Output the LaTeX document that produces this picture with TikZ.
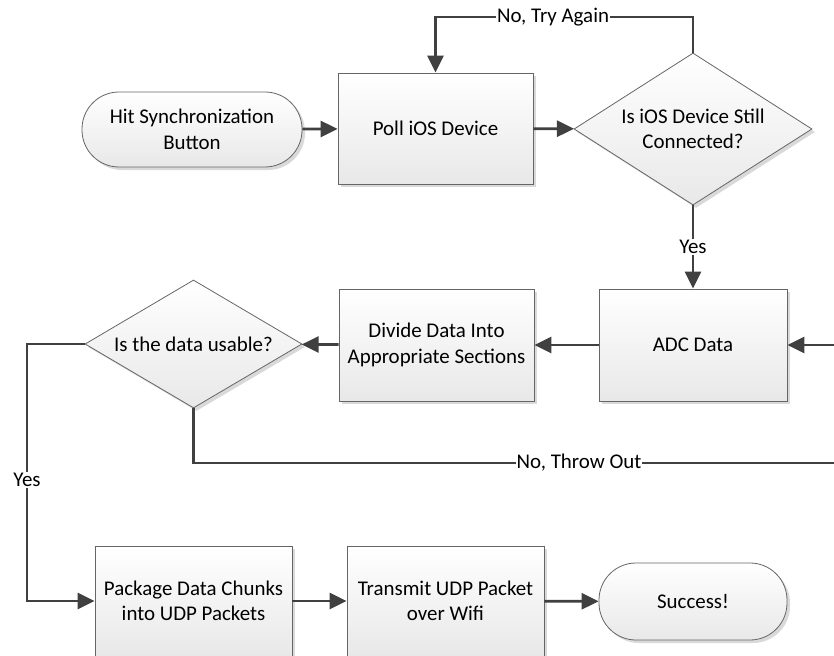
\documentclass[tikz,border=0pt]{standalone}
\usepackage{fontspec}
\setmainfont{Carlito}
\usetikzlibrary{arrows.meta,shapes.geometric,shadows}

\begin{document}
\begin{tikzpicture}[
  x=1bp,
  y=-1bp,
  line join=miter,
  >={Triangle[length=17bp,width=16bp]},
  flowbox/.style={draw=black!60, line width=0.8bp, top color=white, bottom color=black!9,
    drop shadow={shadow xshift=3bp, shadow yshift=-3bp, fill=black!15, opacity=1},
    font=\fontsize{21}{25.6}\selectfont, align=center, inner sep=0},
  process/.style={flowbox, rectangle, minimum width=195bp, minimum height=111bp},
  terminal/.style={flowbox, rectangle, rounded corners=37bp, minimum height=75bp},
  decision/.style={flowbox, diamond},
  arrow/.style={draw=black!75, line width=2.8bp, ->},
  label/.style={font=\fontsize{21}{25.6}\selectfont, fill=white, inner sep=1bp}
]
\useasboundingbox (0,0) rectangle (834,656);
\clip (0,0) rectangle (834,656);
\fill[white] (0,0) rectangle (834,656);

% Top row
\node[terminal, minimum width=220bp] (start) at (192,129.5) {Hit Synchronization\\Button};
\node[process] (poll) at (435.5,128.5) {Poll iOS Device};
\node[decision, aspect=1.57, minimum width=238bp, minimum height=152bp] (conn) at (693,129)
  {Is iOS Device Still\\Connected?};

% Middle row
\node[process, minimum width=188bp, minimum height=112bp] (adc) at (693,345) {ADC Data};
\node[process, minimum height=112bp] (divide) at (436.5,345) {Divide Data Into\\Appropriate Sections};
\node[decision, aspect=1.7, minimum width=217bp, minimum height=128bp] (usable) at (193.5,344)
  {Is the data usable?};

% Bottom row
\node[process, minimum width=197bp, minimum height=110bp] (package) at (193.5,601) {Package Data Chunks\\into UDP Packets};
\node[process, minimum width=197bp, minimum height=110bp] (transmit) at (445.5,601) {Transmit UDP Packet\\over Wifi};
\node[terminal, minimum width=188bp, minimum height=77bp] (success) at (693,601.5) {Success!};

% Helper points
\coordinate (retry) at (0,17);
\coordinate (throwout) at (860,463);
\coordinate (yesline) at (27,0);

% Connections and labels
\draw[arrow] (start) -- (poll);
\draw[arrow] (poll) -- (conn);
\draw[arrow] (conn.north) -- (conn.north |- retry) -| (poll.north);
\node[label] (tryagain) at (553,17) {No, Try Again};

\draw[arrow] (conn.south) -- (adc.north) node[label, midway] (yesdown) {Yes};
\draw[arrow] (adc) -- (divide);
\draw[arrow] (divide) -- (usable);

\draw[arrow] (usable.south) |- (throwout) |- (adc.east);
\node[label] (throwlabel) at (579,463) {No, Throw Out};

\draw[arrow] (usable.west) -- (usable.west -| yesline) -- (yesline |- package.west) -- (package.west);
\node[label] (yesleft) at (27,480) {Yes};

\draw[arrow] (package) -- (transmit);
\draw[arrow] (transmit) -- (success);

\end{tikzpicture}
\end{document}
